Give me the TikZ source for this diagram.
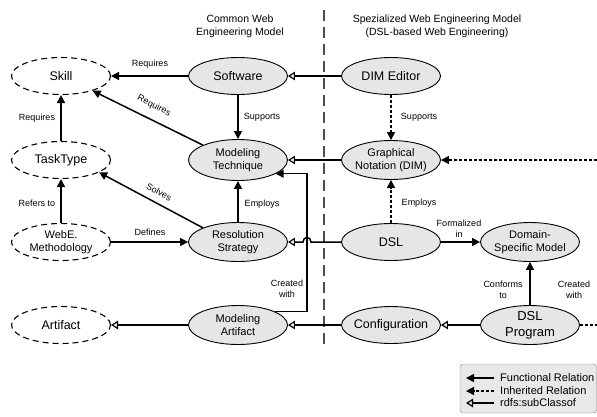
\documentclass[tikz,border=0pt]{standalone}
\usepackage{fontspec}
\setmainfont{Liberation Sans}
\usetikzlibrary{arrows.meta,shapes.geometric}
\definecolor{nodegray}{HTML}{E6E6E6}
\definecolor{leggray}{HTML}{E8E8E8}
\begin{document}
\begin{tikzpicture}[x=1pt,y=-1pt,
  ell/.style={ellipse,draw,line width=0.9pt,minimum width=99pt,minimum height=37pt,inner xsep=-8pt,inner ysep=-2pt,align=center},
  conc/.style={ell,fill=nodegray},
  abst/.style={ell,fill=white,line width=1.1pt,dash pattern=on 6pt off 4pt},
  one/.style={font=\fontsize{12.5}{14}\selectfont},
  two/.style={font=\fontsize{11}{13.5}\selectfont},
  rel/.style={line width=1.5pt,-{Triangle[length=8pt,width=8pt]}},
  inh/.style={rel,dash pattern=on 3pt off 2pt},
  sub/.style={line width=1.5pt,-{Triangle[open,length=7pt,width=8.5pt,line width=1.2pt]}},
  lbl/.style={font=\fontsize{9}{11}\selectfont,align=center,inner sep=1pt},
  head/.style={font=\fontsize{10.5}{13}\selectfont,align=center,inner sep=0pt},
  leg/.style={font=\fontsize{11}{13}\selectfont,anchor=west,inner sep=0pt},
]
\useasboundingbox (0,0) rectangle (597,416);

% separator
\coordinate (sepT) at (324,10);
\coordinate (sepB) at (324,348);
\draw[gray!60!black,line width=1.2pt,dash pattern=on 11pt off 6pt] (sepT) -- (sepB);

% headers
\node[head] (h1) at (240,26) {Common Web\\Engineering Model};
\node[head] (h2) at (437,26) {Spezialized Web Engineering Model\\(DSL-based Web Engineering)};

% nodes
\node[abst,one] (sk) at (61,76) {Skill};
\node[abst,one] (tt) at (61,160) {TaskType};
\node[abst,two] (we) at (61,242) {WebE.\\Methodology};
\node[abst,one] (ar) at (61,325) {Artifact};
\node[conc,one] (sw) at (238,76) {Software};
\node[conc,two,minimum height=41pt] (mt) at (238,160) {Modeling\\Technique};
\node[conc,two,minimum height=39pt] (rs) at (238,242) {Resolution\\Strategy};
\node[conc,two,minimum height=39pt] (ma) at (238,325) {Modeling\\Artifact};
\node[conc,one] (de) at (391,76) {DIM Editor};
\node[conc,two,minimum height=39pt] (gn) at (391,160) {Graphical\\Notation (DIM)};
\node[conc,one] (dsl) at (391,242) {DSL};
\node[conc,two,minimum height=39pt] (dsm) at (530,242) {Domain-\\Specific Model};
\node[conc,one] (cf) at (391,325) {Configuration};
\node[conc,font=\fontsize{13}{16}\selectfont,minimum height=39pt] (dp) at (530,325) {DSL\\Program};

% helper coordinates
\coordinate (vx) at (307,0);
\coordinate (hop) at (307,242);
\coordinate (edgeA) at (597,160);
\coordinate (edgeB) at (597,325);

% functional relations
\draw[rel] (sw.west) -- (sk.east);
\node[lbl] (l1) at (150,64) {Requires};
\draw[rel] (mt.157) -- (sk.-25);
\node[lbl,rotate=-27] (l2) at (154,106) {Requires};
\draw[rel] (tt.north) -- (sk.south);
\node[lbl] (l3) at (37,118) {Requires};
\draw[rel] (sw.south) -- (mt.north);
\node[lbl] (l4) at (262,117) {Supports};
\draw[rel] (rs.158) -- (tt.-18);
\node[lbl,rotate=-28] (l5) at (159,192) {Solves};
\draw[rel] (we.north) -- (tt.south);
\node[lbl] (l6) at (37,203) {Refers to};
\draw[rel] (we.east) -- (rs.west);
\node[lbl] (l7) at (150,232) {Defines};
\draw[rel] (rs.north) -- (mt.south);
\node[lbl] (l8) at (262,204) {Employs};
\draw[rel] (ma.20) -- (ma.20 -| vx) -- (mt.-20 -| vx) -- (mt.-20);
\node[lbl] (l9) at (287,289) {Created\\with};
\draw[rel] (dsl.east) -- (dsm.west);
\node[lbl] (l10) at (459,229) {Formalized\\in};
\draw[rel] (dp.north) -- (dsm.south);
\node[lbl] (l11) at (503,290) {Conforms\\to};
\node[lbl] (l12) at (574,290) {Created\\with};

% inherited relations
\draw[inh] (de.south) -- (gn.north);
\node[lbl] (l13) at (419,117) {Supports};
\draw[inh] (dsl.north) -- (gn.south);
\node[lbl] (l14) at (419,203) {Employs};
\draw[inh] (edgeA) -- (gn.east);
\draw[line width=1.5pt,dash pattern=on 3pt off 2pt] (dp.east) -- (edgeB);

% subclass relations
\draw[sub] (de.west) -- (sw.east);
\draw[sub] (gn.west) -- (mt.east);
\draw[sub] (dsl.west) -- ([xshift=4pt]hop) .. controls ([xshift=4pt,yshift=6pt]hop) and ([xshift=-4pt,yshift=6pt]hop) .. ([xshift=-4pt]hop) -- (rs.east);
\draw[sub] (ma.west) -- (ar.east);
\draw[sub] (cf.west) -- (ma.east);
\draw[sub] (dp.west) -- (cf.east);

% legend
\draw[rounded corners=3pt,fill=leggray,draw=gray] (460,364) rectangle (596.5,413);
\coordinate (a1) at (494,378); \coordinate (b1) at (466,378);
\coordinate (a2) at (494,391); \coordinate (b2) at (466,391);
\coordinate (a3) at (494,403); \coordinate (b3) at (466,403);
\draw[rel] (a1) -- (b1);
\draw[inh] (a2) -- (b2);
\draw[sub] (a3) -- (b3);
\node[leg] (t1) at (500,378) {Functional Relation};
\node[leg] (t2) at (500,391) {Inherited Relation};
\node[leg] (t3) at (500,403) {rdfs:subClassof};
\end{tikzpicture}
\end{document}
